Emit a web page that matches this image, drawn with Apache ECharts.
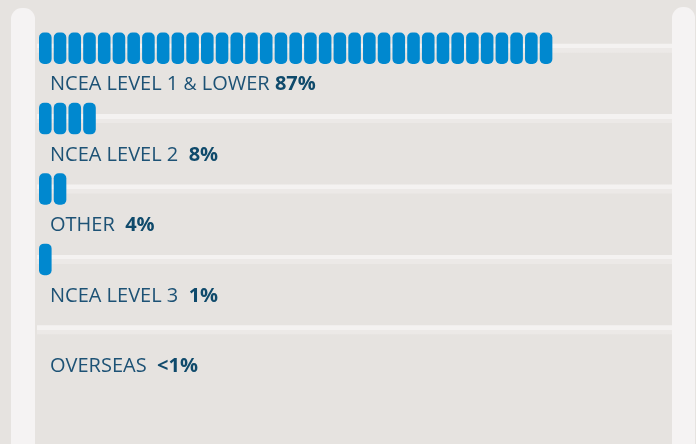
<!DOCTYPE html>
<html>
<head>
<meta charset="utf-8">
<script src="https://cdn.jsdelivr.net/npm/echarts@6/dist/echarts.min.js"></script>
<style>
  html, body { margin: 0; padding: 0; background: #e6e3e0; }
  #chart { width: 696px; height: 444px; }
</style>
</head>
<body>
<div id="chart"></div>
<script>
// qualification groups, top to bottom
const categories = ['NCEA LEVEL 1 & LOWER', 'NCEA LEVEL 2', 'OTHER', 'NCEA LEVEL 3', 'OVERSEAS'];
const shares = [87, 8, 4, 1, 0];
const shareLabels = ['87%', '8%', '4%', '1%', '<1%'];
const trackValues = [1, 1, 1, 1, 1];

const chart = echarts.init(document.getElementById('chart'));

// rounded segment, drawn at its own size so corners stay round
const segPath = 'path://M50,0 H76 A50,50 0 0 1 126,50 V265 A50,50 0 0 1 76,315 H50 A50,50 0 0 1 0,265 V50 A50,50 0 0 1 50,0 Z';

function labelText(i) {
  // the ampersand is set a bit smaller in the original
  const name = categories[i].split('&').map(t => '{n|' + t + '}').join('{a|&}');
  const gap = i === 0 ? ' ' : '  ';
  return name + '{s|' + gap + '}{b|' + shareLabels[i] + '}';
}

const option = {
  backgroundColor: '#e6e3e0',
  animation: false,
  graphic: [
    { type: 'rect', z: 0, shape: { x: 11, y: 8, width: 24, height: 460, r: 11 }, style: { fill: '#f5f3f3' } },
    { type: 'rect', z: 0, shape: { x: 672, y: 7, width: 23, height: 460, r: 11 }, style: { fill: '#f5f3f3' } }
  ],
  grid: [
    { left: 37, right: 24, top: 13, height: 352 },
    { left: 39, width: 587, top: 13, height: 352 }
  ],
  xAxis: [
    { gridIndex: 0, type: 'value', min: 0, max: 1, show: false },
    { gridIndex: 1, type: 'value', min: 0, max: 100, show: false }
  ],
  yAxis: [
    { gridIndex: 0, type: 'category', data: categories, inverse: true, show: false },
    { gridIndex: 1, type: 'category', data: categories, inverse: true, show: false }
  ],
  series: [
    {
      name: 'track',
      type: 'bar',
      xAxisIndex: 0,
      yAxisIndex: 0,
      data: trackValues,
      barWidth: 9,
      z: 1,
      itemStyle: {
        color: new echarts.graphic.LinearGradient(0, 0, 0, 1, [
          { offset: 0, color: '#f4f2f1' },
          { offset: 0.5, color: '#f4f2f1' },
          { offset: 0.5, color: '#ece9e7' },
          { offset: 1, color: '#ece9e7' }
        ])
      },
      label: {
        show: true,
        position: [13, 41],
        align: 'left',
        verticalAlign: 'middle',
        formatter: p => labelText(p.dataIndex),
        rich: {
          n: { fontFamily: 'Open Sans', fontSize: 20, color: '#1d5275' },
          a: { fontFamily: 'Open Sans', fontSize: 18, color: '#1d5275' },
          s: { fontFamily: 'Open Sans', fontSize: 20 },
          b: { fontFamily: 'Open Sans', fontSize: 20, fontWeight: 'bold', color: '#0f4a6b' }
        }
      }
    },
    {
      name: 'share',
      type: 'pictorialBar',
      xAxisIndex: 1,
      yAxisIndex: 1,
      data: shares,
      symbol: segPath,
      symbolSize: [12.6, 31.5],
      symbolRepeat: true,
      symbolMargin: 1.16,
      symbolBoundingData: 100,
      symbolPosition: 'start',
      z: 3,
      itemStyle: { color: '#0088cf' }
    }
  ]
};

chart.setOption(option);
</script>
</body>
</html>
